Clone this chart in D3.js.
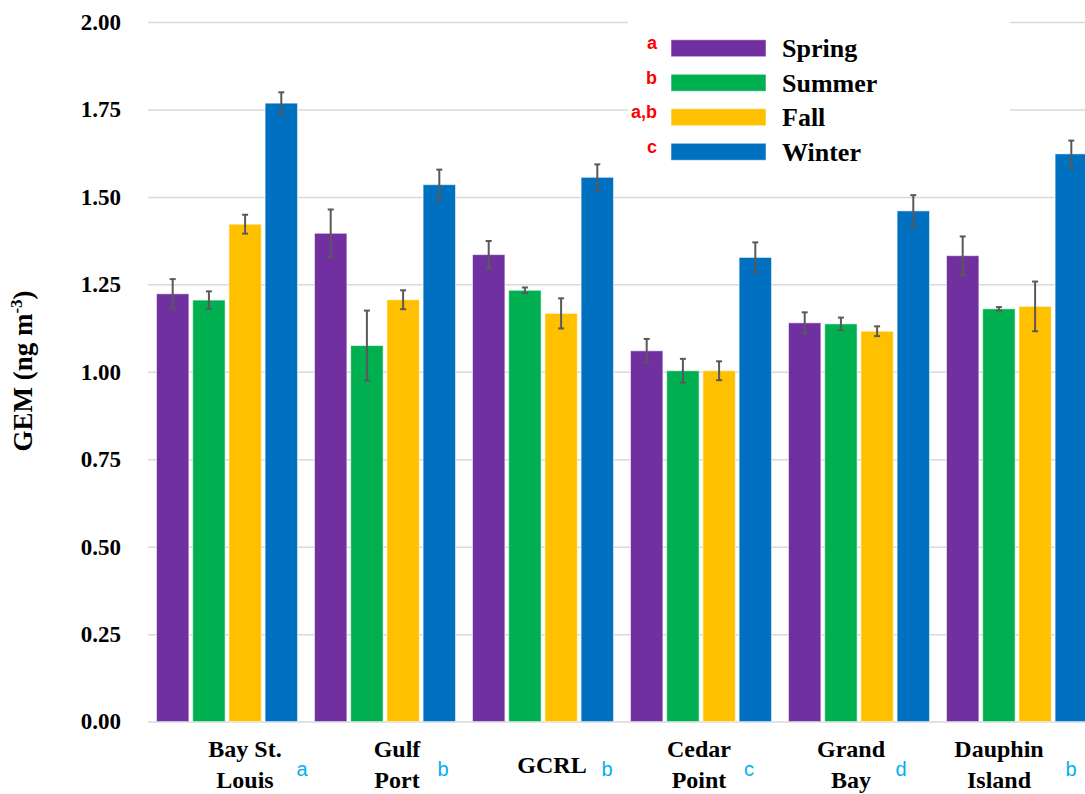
<!DOCTYPE html>
<html>
<head>
<meta charset="utf-8">
<script src="https://cdn.jsdelivr.net/npm/d3@7"></script>
<style>
  html, body { margin: 0; padding: 0; background: #fff; }
  svg { display: block; }
</style>
</head>
<body>
<svg id="chart" width="1085" height="794"></svg>
<script>
// Gaseous elemental mercury by site and season
const sites = ["Bay St. Louis", "Gulf Port", "GCRL", "Cedar Point", "Grand Bay", "Dauphin Island"];
const siteLines = [["Bay St.", "Louis"], ["Gulf", "Port"], ["GCRL"], ["Cedar", "Point"], ["Grand", "Bay"], ["Dauphin", "Island"]];
const siteLetters = ["a", "b", "b", "c", "d", "b"];

const seasons = ["Spring", "Summer", "Fall", "Winter"];
const seasonLetters = ["a", "b", "a,b", "c"];

const spring    = [1.223, 1.396, 1.335, 1.060, 1.140, 1.332];
const springErr = [0.042, 0.068, 0.039, 0.034, 0.030, 0.055];
const summer    = [1.205, 1.075, 1.233, 1.003, 1.137, 1.180];
const summerErr = [0.025, 0.100, 0.008, 0.034, 0.018, 0.005];
const fall      = [1.422, 1.206, 1.167, 1.003, 1.116, 1.187];
const fallErr   = [0.027, 0.027, 0.043, 0.027, 0.014, 0.071];
const winter    = [1.768, 1.535, 1.556, 1.327, 1.460, 1.623];
const winterErr = [0.031, 0.043, 0.037, 0.043, 0.045, 0.038];

const yTicks = [0, 0.25, 0.5, 0.75, 1.0, 1.25, 1.5, 1.75, 2.0];

const values = [spring, summer, fall, winter];
const errors = [springErr, summerErr, fallErr, winterErr];
const colors = ["#7030A0", "#00B050", "#FFC000", "#0070C0"];

// layout
const plotLeft = 148, plotRight = 1096, plotTop = 22, plotBottom = 721.6;
const labelShift = [18, 12, 9, -2, -8, -18];
const letterShift = [75, 58, 64, 48, 42, 54];
const serif = "'Liberation Serif', 'Times New Roman', serif";
const sans = "'Liberation Sans', Arial, sans-serif";

const svg = d3.select("#chart");

const x0 = d3.scaleBand().domain(sites).range([plotLeft, plotRight])
  .paddingInner(0.1076).paddingOuter(0.0538);
const x1 = d3.scaleBand().domain(seasons).range([0, x0.bandwidth()]).paddingInner(0.105);
const y = d3.scaleLinear().domain([0, 2]).range([plotBottom, plotTop]);

// gridlines and tick labels
const yAxis = d3.axisLeft(y).tickValues(yTicks).tickFormat(d3.format(".2f"))
  .tickSize(-(plotRight - plotLeft)).tickPadding(27);
const gy = svg.append("g").attr("transform", `translate(${plotLeft},0)`).call(yAxis);
gy.select(".domain").remove();
gy.selectAll(".tick line").attr("stroke", "#d9d9d9").attr("stroke-width", 1.5);
gy.selectAll(".tick text")
  .attr("font-family", serif).attr("font-weight", "bold").attr("font-size", 23)
  .attr("fill", "#000");

// y axis title
const yTitle = svg.append("text")
  .attr("transform", "translate(32,371) rotate(-90)")
  .attr("text-anchor", "middle")
  .attr("font-family", serif).attr("font-weight", "bold").attr("font-size", 27)
  .attr("fill", "#000");
yTitle.append("tspan").text("GEM (ng m");
yTitle.append("tspan").text("-3").attr("font-size", 17).attr("dy", -10);
yTitle.append("tspan").text(")").attr("dy", 10);

// bars
const rows = [];
sites.forEach((s, i) => {
  seasons.forEach((k, j) => {
    rows.push({ site: s, season: k, v: values[j][i], e: errors[j][i], c: colors[j] });
  });
});

const bars = svg.append("g");
bars.selectAll("rect").data(rows).join("rect")
  .attr("x", d => x0(d.site) + x1(d.season))
  .attr("y", d => y(d.v))
  .attr("width", x1.bandwidth())
  .attr("height", d => y(0) - y(d.v))
  .attr("fill", d => d.c)
  .attr("stroke", "#ffffff").attr("stroke-opacity", 0.55).attr("stroke-width", 1);

// error bars
const eb = svg.append("g").attr("stroke", "#595959").attr("stroke-width", 2).attr("fill", "none");
rows.forEach(d => {
  const cx = x0(d.site) + x1(d.season) + x1.bandwidth() / 2;
  const t = y(d.v + d.e), b = y(d.v - d.e);
  eb.append("line").attr("x1", cx).attr("x2", cx).attr("y1", t).attr("y2", b);
  eb.append("line").attr("x1", cx - 3).attr("x2", cx + 3).attr("y1", t).attr("y2", t);
  eb.append("line").attr("x1", cx - 3).attr("x2", cx + 3).attr("y1", b).attr("y2", b);
});

// site labels
sites.forEach((s, i) => {
  const cx = x0(s) + x0.bandwidth() / 2;
  const lines = siteLines[i];
  const t = svg.append("text")
    .attr("text-anchor", "middle")
    .attr("font-family", serif).attr("font-weight", "bold").attr("font-size", 24)
    .attr("fill", "#000");
  if (lines.length === 1) {
    t.append("tspan").attr("x", cx + labelShift[i]).attr("y", 773).text(lines[0]);
  } else {
    lines.forEach((ln, k) => {
      t.append("tspan").attr("x", cx + labelShift[i]).attr("y", 757 + k * 31).text(ln);
    });
  }
  svg.append("text")
    .attr("x", cx + letterShift[i]).attr("y", 776)
    .attr("text-anchor", "middle")
    .attr("font-family", sans).attr("font-size", 20)
    .attr("fill", "#00B0F0")
    .text(siteLetters[i]);
});

// legend
const lg = svg.append("g");
lg.append("rect").attr("x", 628).attr("y", 0).attr("width", 382).attr("height", 172).attr("fill", "#fff");
const rowY = d3.scaleBand().domain(seasons).range([31, 169]);
seasons.forEach((k, j) => {
  const cy = rowY(k) + rowY.bandwidth() / 2;
  lg.append("rect").attr("x", 671).attr("y", cy - 8.5).attr("width", 95).attr("height", 17)
    .attr("fill", colors[j]).attr("stroke", "#ffffff").attr("stroke-opacity", 0.55);
  lg.append("text").attr("x", 782).attr("y", cy + 9)
    .attr("font-family", serif).attr("font-weight", "bold").attr("font-size", 26)
    .attr("fill", "#000").text(k);
  lg.append("text").attr("x", 657).attr("y", cy + 1)
    .attr("text-anchor", "end")
    .attr("font-family", sans).attr("font-weight", "bold").attr("font-size", 18)
    .attr("fill", "#FF0000").text(seasonLetters[j]);
});
</script>
</body>
</html>
